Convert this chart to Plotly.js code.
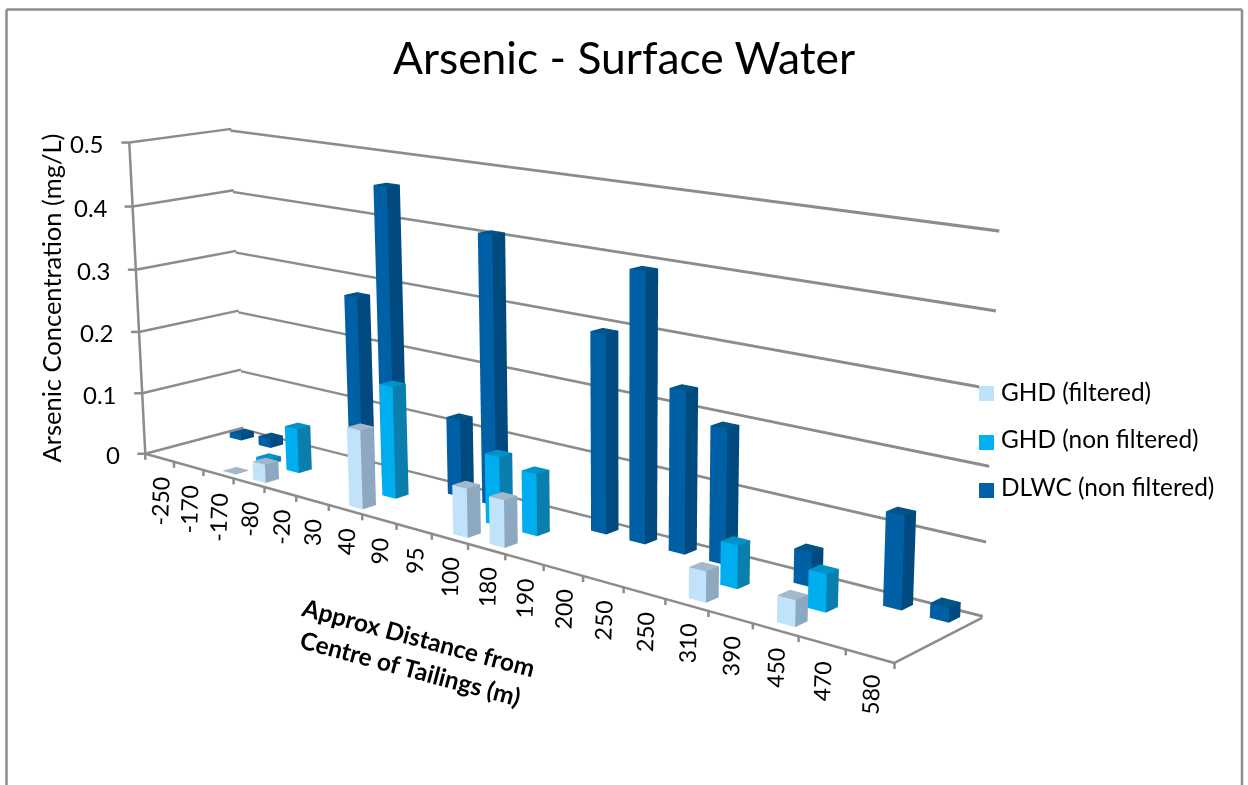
<!DOCTYPE html>
<html><head><meta charset="utf-8">
<script src="https://cdn.plot.ly/plotly-3.0.1.min.js"></script>
<style>html,body{margin:0;padding:0;width:1248px;height:785px;overflow:hidden;background:#fff}#plot{position:absolute;left:0}</style>
</head><body><div id="plot"></div>
<script>
const categories=['-250','-170','-170','-80','-20','30','40','90','95','100','180','190','200','250','250','310','390','450','470','580'];
const ghdFiltered=[null,null,0.001,0.029,null,null,0.121,null,null,0.073,0.07,null,null,null,null,0.043,null,0.036,null,null];
const ghdNonFiltered=[null,null,0.008,0.071,null,null,0.173,null,null,0.104,0.092,null,null,null,null,0.061,null,0.052,null,null];
const dlwcNonFiltered=[0.01,0.015,null,null,0.278,0.456,null,0.12,0.408,null,null,0.293,0.391,0.234,0.193,null,0.048,null,0.128,0.02];
const gridLevels=[0,0.1,0.2,0.3,0.4,0.5];

// Scene camera. The page is a window onto a taller plot, since the fixed 45 degree
// field of view needs this height to give the long lens of the drawing.
const W=1248,H=1853,PX=624,PY=392,TOP=PY-H/2;
const XMAX=20,YMAX=3,ZMAX=0.5;
const XPAD=0.2,YPAD=0.05,ZPAD=0.02;
const eye=[1.45917,-1.60679,0.5253],center=[0.08236,0.07006,-0.03562],up=[-0.00297,-0.00277,1];
const aspect=[1,0.14509,0.35304];
const FOCAL=(H/2)/Math.tan(Math.PI/8);

const sub=(a,b)=>a.map((v,i)=>v-b[i]),dot=(a,b)=>a[0]*b[0]+a[1]*b[1]+a[2]*b[2];
const cross=(a,b)=>[a[1]*b[2]-a[2]*b[1],a[2]*b[0]-a[0]*b[2],a[0]*b[1]-a[1]*b[0]];
const unit=a=>{const l=Math.hypot(...a);return a.map(v=>v/l)};
const camZ=unit(sub(eye,center)),camX=unit(cross(up,camZ)),camY=cross(camZ,camX);
// Where a data point lands on the page, for the ticks and labels drawn around the scene.
function project(x,y,z){
  const s=[aspect[0]*(x/XMAX-.5),aspect[1]*(y/YMAX-.5),aspect[2]*(z/ZMAX-.5)],d=sub(s,eye),w=-dot(d,camZ);
  return [PX+FOCAL*dot(d,camX)/w,PY-FOCAL*dot(d,camY)/w];
}
const fx=px=>px/W,fy=py=>1-(py-TOP)/H;
const flat={ambient:1,diffuse:0,specular:0,roughness:1,fresnel:0};

function barMesh(values,row,front,side,top,name){
  const x=[],y=[],z=[],i=[],j=[],k=[],fc=[];const hx=.2,hy=.2;
  values.forEach((v,c)=>{
    if(v==null)return;
    const n=x.length,x0=c+.5-hx,x1=c+.5+hx,y0=row+.5-hy,y1=row+.5+hy;
    [[x0,y0,0],[x1,y0,0],[x1,y1,0],[x0,y1,0],[x0,y0,v],[x1,y0,v],[x1,y1,v],[x0,y1,v]].forEach(q=>{x.push(q[0]);y.push(q[1]);z.push(q[2])});
    [[0,1,5,front],[0,5,4,front],[1,2,6,side],[1,6,5,side],[4,5,6,top],[4,6,7,top],[2,3,7,side],[2,7,6,side],[3,0,4,front],[3,4,7,front],[0,2,1,front],[0,3,2,front]].forEach(t=>{i.push(n+t[0]);j.push(n+t[1]);k.push(n+t[2]);fc.push(t[3])});
  });
  return {type:'mesh3d',name,x,y,z,i,j,k,facecolor:fc,flatshading:true,lighting:flat,hoverinfo:'skip',showscale:false};
}
// Back wall gridlines are thin strips in the scene so the columns hide them.
function wallGrid(levels,color){
  const x=[],y=[],z=[],i=[],j=[],k=[],half=0.002;
  levels.forEach(g=>{
    const n=x.length;
    [[0,g-half],[XMAX,g-half],[XMAX,g+half],[0,g+half]].forEach(q=>{x.push(q[0]);y.push(YMAX);z.push(q[1])});
    i.push(n,n);j.push(n+1,n+2);k.push(n+2,n+3);
  });
  return {type:'mesh3d',name:'gridlines',x,y,z,i,j,k,color,flatshading:true,lighting:flat,hoverinfo:'skip',showscale:false};
}
const GRAY='#8c8c8c';
const traces=[
  wallGrid(gridLevels,GRAY),
  barMesh(ghdFiltered,0,'#C0E2FA','#8DA9C2','#A3B8CB','GHD (filtered)'),
  barMesh(ghdNonFiltered,1,'#00ADEF','#0A7FAE','#0092C8','GHD (non filtered)'),
  barMesh(dlwcNonFiltered,2,'#0060A6','#004A7F','#005487','DLWC (non filtered)')
];

const seg=(a,b,c,d)=>({type:'line',xref:'paper',yref:'paper',x0:fx(a),y0:fy(b),x1:fx(c),y1:fy(d),line:{color:GRAY,width:2.5}});
const seg3=(p,q)=>seg(p[0],p[1],q[0],q[1]);
const shapes=[seg(6.5,790,6.5,9),seg(6.5,9,1242,9),seg(1242,9,1242,790)];
gridLevels.forEach(g=>{
  shapes.push(seg3(project(0,0,g),project(0,YMAX,g)));
  const q=project(0,0,g);shapes.push(seg(q[0]-8,q[1],q[0],q[1]));
});
shapes.push(seg3(project(0,0,0),project(0,0,ZMAX)),seg3(project(0,0,0),project(XMAX,0,0)),seg3(project(XMAX,0,0),project(XMAX,YMAX,0)));
for(let t=0;t<=XMAX;t++){const q=project(t,0,0);shapes.push(seg(q[0],q[1],q[0],q[1]+6))}

const ann=[];
const note=(px,py,text,o)=>ann.push(Object.assign({xref:'paper',yref:'paper',x:fx(px),y:fy(py),text,showarrow:false,font:{family:'Lato',size:24,color:'#000'}},o));
const box=(l,t,r,b,color)=>ann.push({xref:'paper',yref:'paper',x:fx((l+r)/2),y:fy((t+b)/2),text:' ',showarrow:false,width:r-l,height:b-t,bgcolor:color,borderpad:0,borderwidth:0,xanchor:'center',yanchor:'middle'});
gridLevels.forEach(g=>{const q=project(0,0,g);note(q[0]-23,q[1]+1,String(g),{xanchor:'right',yanchor:'middle'})});
categories.forEach((c,n)=>{const q=project(n+.5,0,0);note(q[0],q[1]+16,c,{xanchor:'center',yanchor:'top',textangle:-88,font:{family:'Lato',size:23,color:'#000'}})});
note(50,298,'Arsenic Concentration (mg/L)',{xanchor:'center',yanchor:'middle',textangle:-90,font:{family:'Lato',size:25.5,color:'#000'}});
note(414,652,'<b>Approx Distance from<br>Centre of Tailings (m)</b>',{xanchor:'center',yanchor:'middle',textangle:15,font:{family:'Lato',size:24.5,color:'#000'}});
box(979,378,1003,404,'#fff');
[['GHD (filtered)','#BDE3FB',393.5],['GHD (non filtered)','#00B0F0',441.5],['DLWC (non filtered)','#0062A6',489.5]].forEach(l=>{
  box(979,l[2]-7.5,994,l[2]+7.5,l[1]);
  note(999,l[2]-3,l[0],{xanchor:'left',yanchor:'middle',font:{family:'Lato',size:24.4,color:'#000'}});
});

const hidden={visible:false,showgrid:false,zeroline:false,showticklabels:false,showspikes:false};
Plotly.newPlot('plot',traces,{
  width:W,height:H,margin:{l:0,r:0,t:0,b:0,autoexpand:false},paper_bgcolor:'#fff',showlegend:false,
  title:{text:'Arsenic - Surface Water',x:.5,xanchor:'center',y:fy(58),yanchor:'middle',font:{family:'Lato',size:44.4,color:'#000'}},
  scene:{domain:{x:[0,1],y:[0,1]},bgcolor:'rgba(0,0,0,0)',aspectmode:'manual',
    aspectratio:{x:aspect[0]*(XMAX+2*XPAD)/XMAX,y:aspect[1]*(YMAX+2*YPAD)/YMAX,z:aspect[2]*(ZMAX+2*ZPAD)/ZMAX},
    camera:{eye:{x:eye[0],y:eye[1],z:eye[2]},center:{x:center[0],y:center[1],z:center[2]},up:{x:up[0],y:up[1],z:up[2]},projection:{type:'perspective'}},
    xaxis:Object.assign({range:[-XPAD,XMAX+XPAD]},hidden),yaxis:Object.assign({range:[-YPAD,YMAX+YPAD]},hidden),zaxis:Object.assign({range:[-ZPAD,ZMAX+ZPAD]},hidden)},
  shapes,annotations:ann
},{displayModeBar:false});
document.getElementById('plot').style.top=TOP+'px';
</script></body></html>
